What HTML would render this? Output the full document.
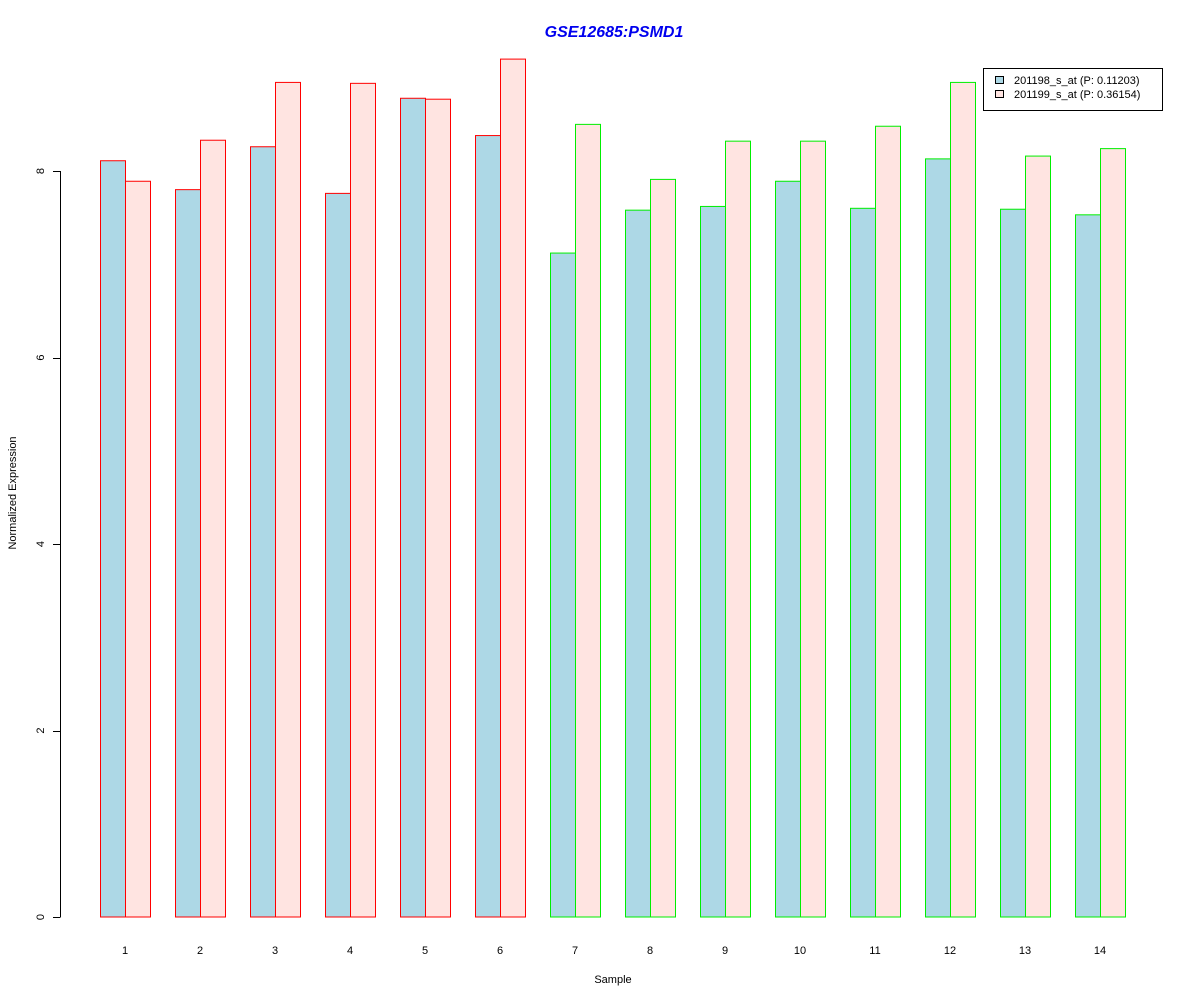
<!DOCTYPE html>
<html><head><meta charset="utf-8"><style>
body{margin:0;background:#fff;}
svg text{font-family:"Liberation Sans",Arial,sans-serif;}
</style></head><body>
<svg id="chart" width="1200" height="1000" xmlns="http://www.w3.org/2000/svg">
<rect width="1200" height="1000" fill="#fff"/>
<text x="614" y="37" text-anchor="middle" font-size="16" font-weight="bold" font-style="italic" fill="#0000ee">GSE12685:PSMD1</text>
<g id="bars"></g>
<g id="yaxis"></g>
<g id="xaxis"></g>
<text transform="translate(16,493) rotate(-90)" text-anchor="middle" font-size="11">Normalized Expression</text>
<text x="613" y="983" text-anchor="middle" font-size="11">Sample</text>
<g>
<rect x="983.5" y="68.5" width="179" height="42" fill="#fff" stroke="#000"/>
<rect x="995.5" y="76.5" width="8" height="7" fill="#add8e6" stroke="#000"/>
<text x="1014" y="84" font-size="11">201198_s_at (P: 0.11203)</text>
<rect x="995.5" y="90.5" width="8" height="7" fill="#ffe4e1" stroke="#000"/>
<text x="1014" y="98" font-size="11">201199_s_at (P: 0.36154)</text>
</g>
</svg>
<script>
const categories=["1","2","3","4","5","6","7","8","9","10","11","12","13","14"];
const series1=[8.11,7.80,8.26,7.76,8.78,8.38,7.12,7.58,7.62,7.89,7.60,8.13,7.59,7.53];
const series2=[7.89,8.33,8.95,8.94,8.77,9.20,8.50,7.91,8.32,8.32,8.48,8.95,8.16,8.24];
const groupColors=["red","red","red","red","red","red","#00ee00","#00ee00","#00ee00","#00ee00","#00ee00","#00ee00","#00ee00","#00ee00"];
const yTicks=[0,2,4,6,8];
const NS="http://www.w3.org/2000/svg";
function y(v){return 917-v*93.25;}
function x(i){return 100+i*75;}
const bars=document.getElementById('bars');
function mk(t,a,p){const e=document.createElementNS(NS,t);for(const k in a)e.setAttribute(k,a[k]);p.appendChild(e);return e;}
categories.forEach((c,i)=>{
 const b1=mk('rect',{x:x(i)+0.5,y:y(series1[i]),width:25,height:917-y(series1[i]),fill:'#add8e6',stroke:groupColors[i]},bars);
 
 
 const b2=mk('rect',{x:x(i)+25.5,y:y(series2[i]),width:25,height:917-y(series2[i]),fill:'#ffe4e1',stroke:groupColors[i]},bars);
 
 
});
const ya=document.getElementById('yaxis');
mk('line',{x1:60.5,x2:60.5,y1:y(yTicks[0]),y2:y(yTicks[yTicks.length-1]),stroke:'#000'},ya);
yTicks.forEach(t=>{
 mk('line',{x1:53,x2:60.5,y1:Math.round(y(t))+0.5,y2:Math.round(y(t))+0.5,stroke:'#000'},ya);
 const tx=mk('text',{transform:`translate(44,${y(t)}) rotate(-90)`,'text-anchor':'middle','font-size':11},ya);
 tx.textContent=t;
 
 
});
const xa=document.getElementById('xaxis');
categories.forEach((c,i)=>{
 const tx=mk('text',{x:x(i)+25,y:954,'text-anchor':'middle','font-size':11},xa);
 tx.textContent=c;
 
 
});
</script>
</body></html>
